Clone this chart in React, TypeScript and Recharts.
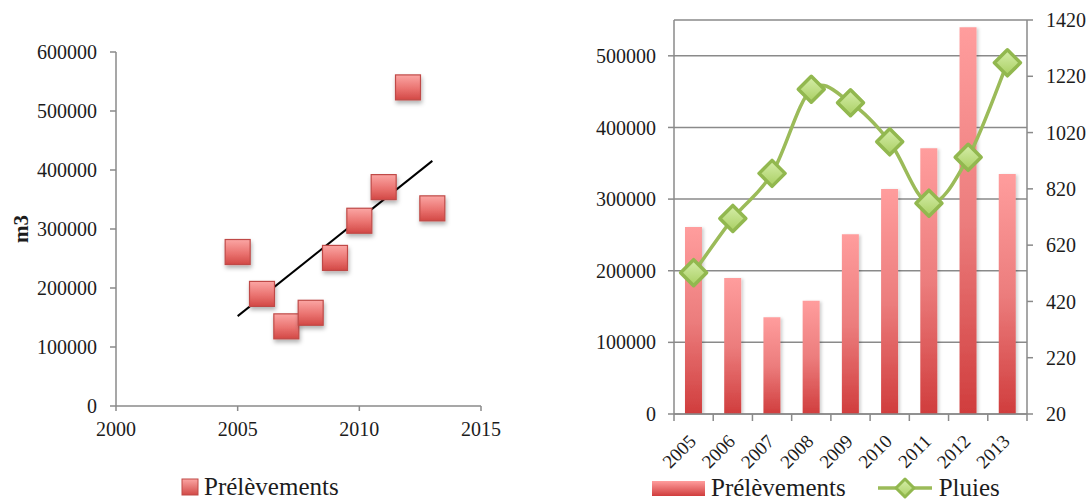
import React from 'react';
import {
  ScatterChart,
  Scatter,
  XAxis,
  YAxis,
  ReferenceLine,
  ComposedChart,
  Bar,
  Line,
  CartesianGrid,
  Legend,
} from 'recharts';

// Annual water withdrawals (m3) and rainfall (mm), 2005–2013
const years = [2005, 2006, 2007, 2008, 2009, 2010, 2011, 2012, 2013];
const prelevements = [261000, 190000, 135000, 158000, 251000, 314000, 371000, 540000, 335000];
const pluies = [522, 715, 875, 1174, 1126, 987, 769, 932, 1268];

// Axis ticks
const scatterYearTicks = [2000, 2005, 2010, 2015];
const scatterVolumeTicks = [0, 100000, 200000, 300000, 400000, 500000, 600000];
const barVolumeTicks = [0, 100000, 200000, 300000, 400000, 500000];
const rainTicks = [20, 220, 420, 620, 820, 1020, 1220, 1420];

const LABEL_PRELEVEMENTS = 'Prélèvements';
const LABEL_PLUIES = 'Pluies';
const LABEL_M3 = 'm3';

const FONT = '"Liberation Serif", "DejaVu Serif", serif';
const INK = '#1c1c1c';
const AXIS = '#8a8a8a';
const GREEN = '#9bbb59';

const scatterData = years.map((year, i) => ({ year, value: prelevements[i] }));
const comboData = years.map((year, i) => ({ year: String(year), prelevements: prelevements[i], pluies: pluies[i] }));

// Least-squares trend line through the withdrawals
const trend = (() => {
  const n = years.length;
  const mx = years.reduce((a, b) => a + b, 0) / n;
  const my = prelevements.reduce((a, b) => a + b, 0) / n;
  let sxy = 0;
  let sxx = 0;
  years.forEach((x, i) => {
    sxy += (x - mx) * (prelevements[i] - my);
    sxx += (x - mx) * (x - mx);
  });
  const slope = sxy / sxx;
  const at = (x: number) => my + slope * (x - mx);
  const x0 = years[0];
  const x1 = years[n - 1];
  return [
    { x: x0, y: at(x0) },
    { x: x1, y: at(x1) },
  ];
})();

// Catmull-Rom style smoothing, similar to spreadsheet "smoothed line"
const smoothCurve = (context: any) => {
  let pts: number[][] = [];
  return {
    areaStart() {},
    areaEnd() {},
    lineStart() {
      pts = [];
    },
    point(x: number, y: number) {
      pts.push([+x, +y]);
    },
    lineEnd() {
      if (!pts.length) return;
      context.moveTo(pts[0][0], pts[0][1]);
      for (let i = 0; i < pts.length - 1; i++) {
        const p0 = pts[i - 1] || pts[i];
        const p1 = pts[i];
        const p2 = pts[i + 1];
        const p3 = pts[i + 2] || p2;
        context.bezierCurveTo(
          p1[0] + (p2[0] - p0[0]) / 6,
          p1[1] + (p2[1] - p0[1]) / 6,
          p2[0] - (p3[0] - p1[0]) / 6,
          p2[1] - (p3[1] - p1[1]) / 6,
          p2[0],
          p2[1]
        );
      }
    },
  };
};

const SquareMarker = (props: any) => {
  const { cx, cy } = props;
  if (cx == null || cy == null) return null;
  const s = 25;
  return (
    <rect
      x={cx - s / 2}
      y={cy - s / 2}
      width={s}
      height={s}
      fill="url(#squareFill)"
      stroke="#bf4a47"
      strokeWidth={1.2}
      filter="url(#markerShadow)"
    />
  );
};

const DiamondDot = (props: any) => {
  const { cx, cy } = props;
  if (cx == null || cy == null) return null;
  const r = 13;
  return (
    <path
      d={`M${cx},${cy - r} L${cx + r},${cy} L${cx},${cy + r} L${cx - r},${cy} Z`}
      fill="url(#diamondFill)"
      stroke="#92b84f"
      strokeWidth={3.5}
      strokeLinejoin="round"
    />
  );
};

const YearTick = (props: any) => {
  const { x, y, payload, index, visibleTicksCount, width } = props;
  const half = payload && payload.offset > 0 ? payload.offset : width / visibleTicksCount / 2;
  const ax = x + 3.5;
  const ay = y + 28.5;
  return (
    <g>
      <line x1={x - half} x2={x - half} y1={y} y2={y + 7} stroke={AXIS} strokeWidth={1.5} />
      {index === visibleTicksCount - 1 && (
        <line x1={x + half} x2={x + half} y1={y} y2={y + 7} stroke={AXIS} strokeWidth={1.5} />
      )}
      <text
        x={ax}
        y={ay}
        transform={`rotate(-45 ${ax} ${ay})`}
        textAnchor="end"
        fontSize={19}
        fontFamily={FONT}
        fill={INK}
      >
        {payload.value}
      </text>
    </g>
  );
};

const M3Title = (props: any) => {
  const { viewBox } = props;
  const x = viewBox.x + 21;
  const y = viewBox.y + viewBox.height / 2;
  return (
    <text
      x={x}
      y={y}
      transform={`rotate(-90 ${x} ${y})`}
      textAnchor="middle"
      dominantBaseline="central"
      fontSize={21}
      fontWeight="bold"
      fontFamily={FONT}
      fill={INK}
    >
      {LABEL_M3}
    </text>
  );
};

const legendText = { fontFamily: FONT, fontSize: 25, color: INK, lineHeight: '24px' };

const ScatterLegend = () => (
  <div style={{ display: 'flex', alignItems: 'center', ...legendText }}>
    <svg width={19} height={19} style={{ marginRight: 4 }}>
      <rect x={1} y={1} width={16} height={16} fill="url(#squareFillLegend)" stroke="#bf4a47" strokeWidth={1} />
      <defs>
        <linearGradient id="squareFillLegend" x1="0" y1="0" x2="0" y2="1">
          <stop offset="0%" stopColor="#fba5a3" />
          <stop offset="100%" stopColor="#d24a47" />
        </linearGradient>
      </defs>
    </svg>
    <span>{LABEL_PRELEVEMENTS}</span>
  </div>
);

const ComboLegend = () => (
  <div style={{ display: 'flex', alignItems: 'center', ...legendText }}>
    <svg width={55} height={16} style={{ marginRight: 4 }}>
      <defs>
        <linearGradient id="barFillLegend" x1="0" y1="0" x2="0" y2="1">
          <stop offset="0%" stopColor="#ff9d9d" />
          <stop offset="100%" stopColor="#d03d3d" />
        </linearGradient>
      </defs>
      <rect x={0} y={1} width={53} height={15} fill="url(#barFillLegend)" />
    </svg>
    <span>{LABEL_PRELEVEMENTS}</span>
    <svg width={58} height={26} style={{ marginLeft: 31, marginRight: 4 }}>
      <defs>
        <linearGradient id="diamondFillLegend" x1="0" y1="0" x2="0" y2="1">
          <stop offset="0%" stopColor="#d6eeaa" />
          <stop offset="100%" stopColor="#acd166" />
        </linearGradient>
      </defs>
      <line x1={1} x2={55} y1={13} y2={13} stroke={GREEN} strokeWidth={3.5} />
      <path d="M28,4 L37,13 L28,22 L19,13 Z" fill="url(#diamondFillLegend)" stroke="#92b84f" strokeWidth={3} strokeLinejoin="round" />
    </svg>
    <span>{LABEL_PLUIES}</span>
  </div>
);

const fmt = (v: number) => String(v);

export default function App() {
  const tickStyle = { fontSize: 20, fill: INK, fontFamily: FONT };
  return (
    <div style={{ position: 'absolute', left: 0, top: 0, width: 1088, height: 499, background: '#fff', fontFamily: FONT }}>
      <div style={{ position: 'absolute', left: 0, top: 0 }}>
        <ScatterChart width={520} height={499} margin={{ top: 52, right: 39, bottom: 63, left: 0 }}>
          <defs>
            <linearGradient id="squareFill" x1="0" y1="0" x2="0" y2="1">
              <stop offset="0%" stopColor="#fba6a4" />
              <stop offset="55%" stopColor="#ea7370" />
              <stop offset="100%" stopColor="#d24845" />
            </linearGradient>
            <filter id="markerShadow" x="-40%" y="-40%" width="180%" height="180%">
              <feDropShadow dx="1" dy="3" stdDeviation="2" floodColor="#000" floodOpacity="0.3" />
            </filter>
          </defs>
          <XAxis
            type="number"
            dataKey="year"
            domain={[2000, 2015]}
            ticks={scatterYearTicks}
            height={30}
            stroke={AXIS}
            strokeWidth={1.5}
            tickSize={5}
            tickMargin={11}
            tick={tickStyle}
            tickFormatter={fmt}
          />
          <YAxis
            type="number"
            dataKey="value"
            domain={[0, 600000]}
            ticks={scatterVolumeTicks}
            width={116}
            stroke={AXIS}
            strokeWidth={1.5}
            tickSize={6}
            tickMargin={13}
            tick={tickStyle}
            tickFormatter={fmt}
            label={<M3Title />}
          />
          <ReferenceLine segment={trend} stroke="#000" strokeWidth={2} ifOverflow="visible" />
          <Scatter
            name={LABEL_PRELEVEMENTS}
            data={scatterData}
            shape={<SquareMarker />}
            isAnimationActive={false}
          />
          <Legend
            verticalAlign="middle"
            content={<ScatterLegend />}
            wrapperStyle={{ left: 181, top: 475, width: 220, height: 24 }}
          />
        </ScatterChart>
      </div>

      <div style={{ position: 'absolute', left: 540, top: 0 }}>
        <ComposedChart
          width={548}
          height={499}
          data={comboData}
          margin={{ top: 20, right: 0, bottom: 25, left: 0 }}
          barCategoryGap="28%"
        >
          <defs>
            <linearGradient id="barFill" x1="0" y1="0" x2="0" y2="1">
              <stop offset="0%" stopColor="#ff9d9d" />
              <stop offset="50%" stopColor="#ec7d7d" />
              <stop offset="100%" stopColor="#d03d3d" />
            </linearGradient>
            <linearGradient id="diamondFill" x1="0" y1="0" x2="0" y2="1">
              <stop offset="0%" stopColor="#d6eeaa" />
              <stop offset="100%" stopColor="#a9cf62" />
            </linearGradient>
            <filter id="barShadow" x="-30%" y="-10%" width="160%" height="120%">
              <feDropShadow dx="2" dy="1" stdDeviation="1.5" floodColor="#000" floodOpacity="0.18" />
            </filter>
          </defs>
          <CartesianGrid yAxisId="left" vertical={false} stroke={AXIS} strokeWidth={1.5} />
          <XAxis
            dataKey="year"
            height={60}
            stroke={AXIS}
            strokeWidth={1.5}
            tickLine={false}
            tickSize={0}
            tickMargin={0}
            tick={<YearTick />}
            interval={0}
          />
          <YAxis
            yAxisId="left"
            domain={[0, 550000]}
            ticks={barVolumeTicks}
            width={134}
            stroke={AXIS}
            strokeWidth={1.5}
            tickSize={6}
            tickMargin={12}
            tick={tickStyle}
            tickFormatter={fmt}
            allowDataOverflow
          />
          <YAxis
            yAxisId="right"
            orientation="right"
            domain={[20, 1420]}
            ticks={rainTicks}
            width={61}
            stroke={AXIS}
            strokeWidth={1.5}
            tickSize={6}
            tickMargin={13}
            tick={{ ...tickStyle, textAnchor: 'start' }}
            tickFormatter={fmt}
            allowDataOverflow
          />
          <Bar
            yAxisId="left"
            dataKey="prelevements"
            name={LABEL_PRELEVEMENTS}
            fill="url(#barFill)"
            filter="url(#barShadow)"
            isAnimationActive={false}
          />
          <Line
            yAxisId="right"
            dataKey="pluies"
            name={LABEL_PLUIES}
            type={smoothCurve as any}
            stroke={GREEN}
            strokeWidth={3.5}
            dot={<DiamondDot />}
            activeDot={false}
            isAnimationActive={false}
          />
          <Legend
            verticalAlign="middle"
            content={<ComboLegend />}
            wrapperStyle={{ left: 112, top: 475, width: 420, height: 24 }}
          />
        </ComposedChart>
      </div>
    </div>
  );
}
